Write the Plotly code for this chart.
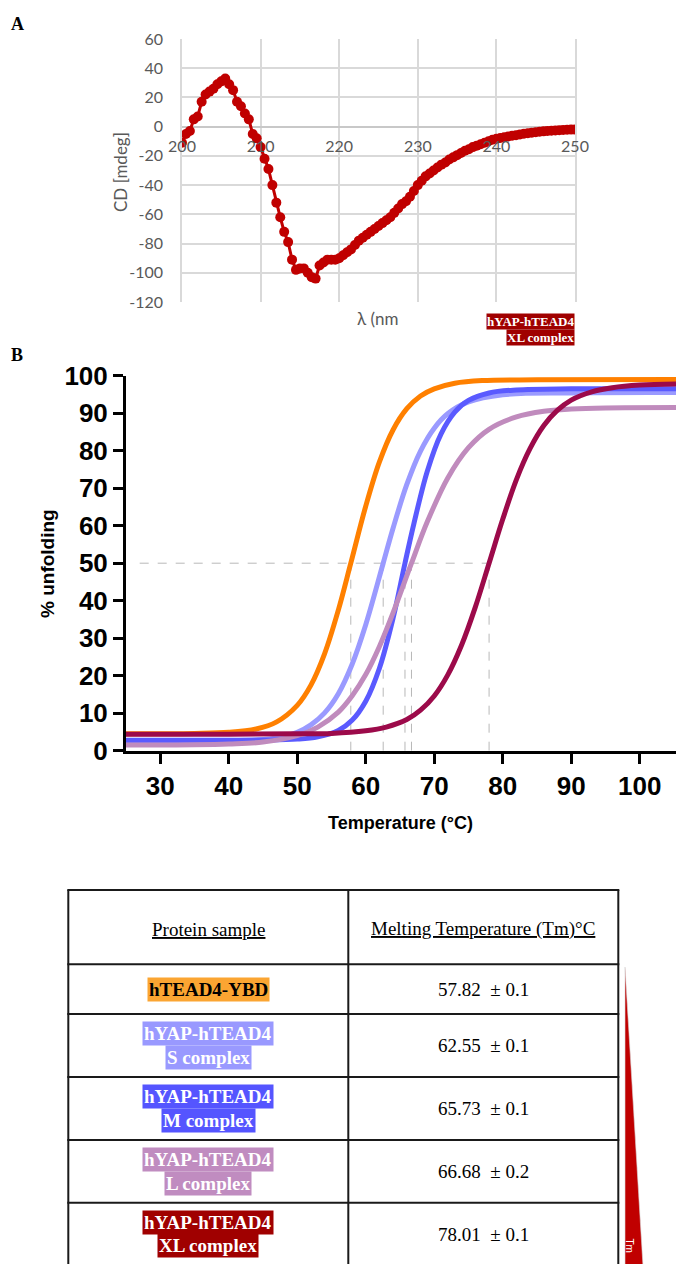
import numpy as np
import plotly.graph_objects as go

W, H = 676, 1264


def fx(px):
    return px / W


def fy(py):
    return 1 - py / H


# ---------------- Panel A: CD spectrum of the XL complex ----------------
wavelength_nm = np.arange(200.0, 250.5, 0.5)
cd_mdeg = [
    -11, -5, -3, 5, 7, 17, 22, 24, 26, 29, 31, 33, 29, 25, 17, 14, 9, 5,
    -5, -8, -14, -22, -29, -40, -52, -62, -72, -79, -91, -98, -97, -97,
    -100, -103, -104, -95, -93, -91, -91, -91, -90, -88,
    -86, -84, -81, -78, -76, -74, -72, -70, -68, -66, -64, -62, -59, -56,
    -53, -51, -48, -44, -40, -37, -34, -32, -30, -28, -26, -24.5, -22.5,
    -21, -19.5, -18, -16.5, -15.5, -14, -13, -12, -11, -10, -9, -8.3, -7.8,
    -7.2, -6.7, -6.2, -5.8, -5.3, -4.9, -4.5, -4.1, -3.8, -3.5, -3.2, -3.0,
    -2.8, -2.6, -2.4, -2.2, -2.1, -2.0, -2.0,
]
cd_xticks = [200, 210, 220, 230, 240, 250]
cd_yticks = [60, 40, 20, 0, -20, -40, -60, -80, -100, -120]

# ---------------- Panel B: thermal unfolding curves ----------------
sample_names = ["hTEAD4-YBD", "hYAP-hTEAD4 S complex", "hYAP-hTEAD4 M complex",
                "hYAP-hTEAD4 L complex", "hYAP-hTEAD4 XL complex"]
tm_values = [57.82, 62.55, 65.73, 66.68, 78.01]
tm_errors = [0.1, 0.1, 0.1, 0.2, 0.1]

temp_ybd = [25, 35, 40, 44, 47, 50, 52, 54, 56, 57.82, 60, 62, 64, 66, 68, 70, 73, 77, 85, 105.3]
unf_ybd = [4.5, 4.6, 4.9, 5.8, 7.7, 12.1, 17.5, 25.9, 37.5, 50, 65.2, 77.0, 85.6, 91.2, 94.6, 96.5,
           98.0, 98.7, 98.9, 99.0]

temp_s = [25, 35, 40, 44, 47, 50, 52, 54, 56, 58, 60, 62.55, 64, 66, 68, 70, 72, 75, 80, 90, 105.3]
unf_s = [2.3, 2.3, 2.5, 2.8, 3.4, 4.9, 6.9, 10.1, 15.2, 23.0, 33.6, 50, 59.4, 71.0, 79.9, 86.0,
         89.9, 93.0, 94.9, 95.4, 95.5]

temp_m = [25, 40, 45, 50, 53, 56, 58, 60, 62, 64, 65.73, 67, 69, 71, 73, 75, 78, 82, 90, 105.3]
unf_m = [2.8, 2.8, 2.85, 3.1, 3.7, 5.4, 8.1, 13.2, 22.0, 35.4, 50, 60.3, 74.6, 84.5, 90.3, 93.4,
         95.4, 96.2, 96.5, 96.5]

temp_l = [25, 35, 40, 45, 50, 53, 56, 58, 60, 62, 64, 66.68, 69, 72, 75, 78, 82, 86, 90, 95, 105.3]
unf_l = [1.5, 1.6, 1.8, 2.3, 4.0, 6.3, 10.3, 14.6, 20.3, 27.8, 36.8, 50, 61.1, 72.8, 80.8, 85.7,
         89.0, 90.5, 91.1, 91.4, 91.5]

temp_xl = [25, 40, 50, 55, 60, 63, 66, 68, 70, 72, 74, 76, 78.01, 80, 82, 84, 86, 88, 90, 93, 96,
           100, 105.3]
unf_xl = [4.4, 4.4, 4.5, 4.6, 5.3, 6.3, 8.3, 10.8, 14.6, 20.3, 28.2, 38.3, 50, 61.7, 72.3, 80.6,
          86.7, 90.8, 93.5, 95.7, 96.8, 97.5, 97.8]

temp_ticks = [30, 40, 50, 60, 70, 80, 90, 100]
unf_ticks = [0, 10, 20, 30, 40, 50, 60, 70, 80, 90, 100]

curve_colors = ["#FF8000", "#9A9AFF", "#5A5AFF", "#C08BBD", "#9C0A4A"]
label_bg = ["#FBA532", "#9999FF", "#5555FF", "#C08CC0", "#A00000"]
label_fg = ["#000000", "#FFFFFF", "#FFFFFF", "#FFFFFF", "#FFFFFF"]
label_lines = [["hTEAD4-YBD"], ["hYAP-hTEAD4", "S complex"], ["hYAP-hTEAD4", "M complex"],
               ["hYAP-hTEAD4", "L complex"], ["hYAP-hTEAD4", "XL complex"]]

SERIF = "Liberation Serif"
SANS = "Liberation Sans"
CAL = "Lato"
GREY_TXT = "#595959"
GRID = "#d9d9d9"

fig = go.Figure()

# CD spectrum
fig.add_trace(go.Scatter(
    x=wavelength_nm, y=cd_mdeg, mode="lines+markers",
    line=dict(color="#C00000", width=3),
    marker=dict(color="#C00000", size=10),
    xaxis="x", yaxis="y", showlegend=False, hoverinfo="skip",
))

# unfolding curves
curves = [(temp_ybd, unf_ybd), (temp_s, unf_s), (temp_m, unf_m), (temp_l, unf_l), (temp_xl, unf_xl)]
for (t, u), col, name in zip(curves, curve_colors, sample_names):
    fig.add_trace(go.Scatter(
        x=t, y=u, mode="lines", name=name,
        line=dict(color=col, width=5, shape="spline", smoothing=1.0),
        xaxis="x2", yaxis="y2", showlegend=False, hoverinfo="skip",
    ))

shapes = []
# 50 % guide and Tm drop lines
shapes.append(dict(type="line", xref="x2", yref="y2", x0=27, x1=max(tm_values) + 1, y0=50, y1=50,
                   line=dict(color="#b8b8b8", width=1, dash="dash"), layer="below"))
for tm in tm_values:
    shapes.append(dict(type="line", xref="x2", yref="y2", x0=tm, x1=tm, y0=0, y1=50,
                       line=dict(color="#b8b8b8", width=1, dash="dash"), layer="below"))

# table grid
TL, TM, TR = 68.3, 348.3, 618.3
row_lines = [890, 964.3, 1014, 1077, 1140, 1202.7]
TB = 1266
for y in row_lines:
    shapes.append(dict(type="line", xref="paper", yref="paper", x0=fx(TL - 1), x1=fx(TR + 1),
                       y0=fy(y), y1=fy(y), line=dict(color="#1a1a1a", width=2)))
for x in (TL, TM, TR):
    shapes.append(dict(type="line", xref="paper", yref="paper", x0=fx(x), x1=fx(x),
                       y0=fy(row_lines[0]), y1=fy(TB), line=dict(color="#1a1a1a", width=2)))

# rising-Tm wedge beside the table
shapes.append(dict(type="path", xref="paper", yref="paper",
                   path=f"M {fx(625)},{fy(967)} L {fx(625)},{fy(1266)} L {fx(643)},{fy(1266)} Z",
                   fillcolor="#C00000", line=dict(color="#d8d8d8", width=0.6)))

ann = []


def label(text, x, y, size, color="black", family=SERIF, xanchor="center", yanchor="middle",
          **kw):
    font = dict(family=family, size=size, color=color)
    if "weight" in kw:
        font["weight"] = kw.pop("weight")
    ann.append(dict(text=text, x=fx(x), y=fy(y), xref="paper", yref="paper", xanchor=xanchor,
                    yanchor=yanchor, showarrow=False, font=font, **kw))


label("<b>A</b>", 9, 12, 18, xanchor="left", yanchor="top")
label("<b>B</b>", 9, 343, 18, xanchor="left", yanchor="top")

label("CD [mdeg]", 120, 172, 17, GREY_TXT, CAL, textangle=-90)
label("λ (nm", 378, 318, 17, GREY_TXT, CAL)
label("<b>hYAP-hTEAD4</b>", 575, 321.5, 13, "white", xanchor="right", bgcolor="#A00000",
      borderpad=0)
label("<b>XL complex</b>", 575, 337, 13, "white", xanchor="right", bgcolor="#A00000",
      borderpad=0)

label("% unfolding", 47, 563, 19, family=SANS, textangle=-90, weight="bold")
label("Temperature (°C)", 400, 823, 18, family=SANS, weight="bold")

# table text
label("<u>Protein sample</u>", (TL + TM) / 2, 929, 19)
label("<u>Melting Temperature (Tm)°C</u>", (TM + TR) / 2, 929, 19)

row_bounds = list(zip(row_lines[1:], row_lines[2:] + [1265.4]))
for i, (top, bot) in enumerate(row_bounds):
    yc = (top + bot) / 2
    lines = label_lines[i]
    offs = [0] if len(lines) == 1 else [-11.7, 11.7]
    for txt, dy in zip(lines, offs):
        label(f"<b>{txt}</b>", (TL + TM) / 2, yc + dy, 19, label_fg[i], bgcolor=label_bg[i],
              borderpad=1)
    label(f"{tm_values[i]:.2f}\u00a0\u00a0± {tm_errors[i]}", (TM + TR) / 2, yc, 19)

label("Tm", 629.5, 1245, 10, "white", SANS, textangle=90)

fig.update_layout(
    template="none",
    width=W, height=H, margin=dict(l=0, r=0, t=0, b=0, pad=0, autoexpand=False),
    paper_bgcolor="white", plot_bgcolor="white",
    xaxis=dict(domain=[fx(182), fx(575)], range=[200, 250], anchor="free", position=fy(127),
               tickvals=cd_xticks, showgrid=True, gridcolor=GRID, gridwidth=1.5,
               zeroline=False, showline=False, ticks="", ticklabelstandoff=8, automargin=False,
               tickfont=dict(family=CAL, size=16, color=GREY_TXT)),
    yaxis=dict(domain=[fy(302), fy(39)], range=[-120, 60], tickvals=cd_yticks,
               ticktext=[str(v) for v in cd_yticks], anchor="x", automargin=False,
               showgrid=True, gridcolor=GRID, gridwidth=1.5, zeroline=True,
               zerolinecolor="#c8c8c8", zerolinewidth=1.5, showline=True, mirror=True,
               linecolor=GRID, linewidth=1.5, ticks="", ticklabelstandoff=14,
               tickfont=dict(family=CAL, size=16, color=GREY_TXT)),
    xaxis2=dict(domain=[fx(126), 1.0], range=[25, 105.3], anchor="y2", tickvals=temp_ticks,
                showgrid=False, zeroline=False, showline=True, linecolor="black", linewidth=3,
                ticks="outside", ticklen=10, tickwidth=3, tickcolor="black",
                ticklabelstandoff=0, automargin=False,
                tickfont=dict(family=SANS, size=26, color="black", weight="bold")),
    yaxis2=dict(domain=[fy(750.7), fy(375.7)], range=[0, 100], anchor="x2", tickvals=unf_ticks,
                showgrid=False, zeroline=False, showline=True, linecolor="black", linewidth=3,
                ticks="outside", ticklen=10, tickwidth=3, tickcolor="black", automargin=False,
                tickfont=dict(family=SANS, size=26, color="black", weight="bold")),
    shapes=shapes, annotations=ann,
)

fig.write_html(
    "out.html",
    post_script="document.body.style.margin='0';document.body.style.overflow='hidden';",
)
